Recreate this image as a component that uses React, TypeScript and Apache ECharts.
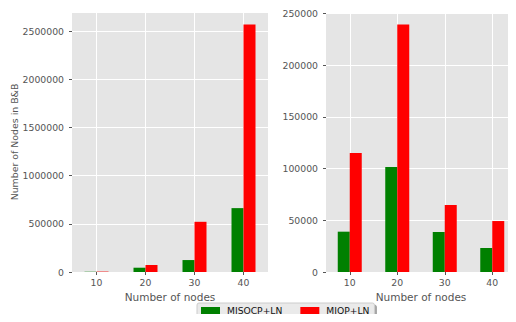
import React, { useEffect, useRef } from "react";
import * as echarts from "echarts";

const categories = ["10", "20", "30", "40"];
const seriesNames = ["MISOCP+LN", "MIQP+LN"];
const leftMisocp = [2500, 44500, 124000, 663000];
const leftMiqp = [4000, 72500, 521000, 2570000];
const rightMisocp = [39000, 101500, 38700, 23200];
const rightMiqp = [115000, 239500, 64800, 49300];
const leftInterval = 500000;
const rightInterval = 50000;
const xLabel = "Number of nodes";
const yLabel = "Number of Nodes in B&B";

const FONT = "DejaVu Sans";
const GREEN = "#008000";
const RED = "#ff0000";
const TXT = "#555555";

function xAxisCfg(gridIndex: number) {
  return {
    type: "category",
    gridIndex,
    data: categories,
    name: xLabel,
    nameLocation: "middle",
    nameGap: 19,
    nameTextStyle: { fontFamily: FONT, fontSize: 10.5, color: TXT },
    axisLine: { show: false },
    axisTick: { show: true, alignWithLabel: true, length: 3, lineStyle: { color: TXT } },
    axisLabel: { fontFamily: FONT, fontSize: 9.3, color: TXT, margin: 6 },
    splitLine: { show: true, alignWithLabel: true, lineStyle: { color: "#ffffff", width: 1 } },
  };
}

function yAxisCfg(gridIndex: number, max: number, interval: number, withName: boolean) {
  return {
    type: "value",
    gridIndex,
    min: 0,
    max,
    interval,
    name: withName ? yLabel : "",
    nameLocation: "middle",
    nameRotate: 90,
    nameGap: 52,
    nameTextStyle: { fontFamily: FONT, fontSize: 9.4, color: TXT },
    axisLine: { show: false },
    axisTick: { show: true, length: 3, lineStyle: { color: TXT } },
    axisLabel: {
      fontFamily: FONT,
      fontSize: 9.3,
      color: TXT,
      margin: 8,
      showMaxLabel: false,
      formatter: (v: number) => String(v),
    },
    splitLine: { show: true, lineStyle: { color: "#ffffff", width: 1 } },
  };
}

function barSeries(name: string, data: number[], color: string, idx: number) {
  return {
    type: "bar",
    name,
    data,
    xAxisIndex: idx,
    yAxisIndex: idx,
    barWidth: 12,
    barGap: "0%",
    itemStyle: { color },
  };
}

export default function App() {
  const ref = useRef<HTMLDivElement>(null);
  useEffect(() => {
    if (!ref.current) return;
    const chart = echarts.init(ref.current, null, { renderer: "svg" });
    const leftMax = Math.max(...leftMiqp, ...leftMisocp) * 1.05;
    const rightMax = Math.max(...rightMiqp, ...rightMisocp) * 1.05;
    chart.setOption({
      animation: false,
      backgroundColor: "#ffffff",
      grid: [
        { left: 72, top: 12, width: 196, height: 260, show: true, backgroundColor: "#E5E5E5", borderWidth: 0 },
        { left: 326, top: 12, width: 195, height: 260, show: true, backgroundColor: "#E5E5E5", borderWidth: 0 },
      ],
      xAxis: [xAxisCfg(0), xAxisCfg(1)],
      yAxis: [yAxisCfg(0, leftMax, leftInterval, true), yAxisCfg(1, rightMax, rightInterval, false)],
      legend: {
        data: seriesNames,
        left: 197,
        top: 303,
        orient: "horizontal",
        icon: "rect",
        itemWidth: 19,
        itemHeight: 7,
        itemGap: 18,
        padding: [3, 5, 3, 4],
        backgroundColor: "#eaeaea",
        borderColor: "#cccccc",
        borderWidth: 1,
        borderRadius: 2,
        shadowColor: "rgba(0,0,0,0.35)",
        shadowBlur: 0,
        shadowOffsetX: 2,
        shadowOffsetY: 2,
        textStyle: { fontFamily: FONT, fontSize: 9.2, color: "#111111", padding: [0, 0, 0, 2] },
      },
      series: [
        barSeries(seriesNames[0], leftMisocp, GREEN, 0),
        barSeries(seriesNames[1], leftMiqp, RED, 0),
        barSeries(seriesNames[0], rightMisocp, GREEN, 1),
        barSeries(seriesNames[1], rightMiqp, RED, 1),
      ],
    });
    return () => chart.dispose();
  }, []);
  return <div ref={ref} style={{ width: 516, height: 322, margin: -8 }} />;
}
